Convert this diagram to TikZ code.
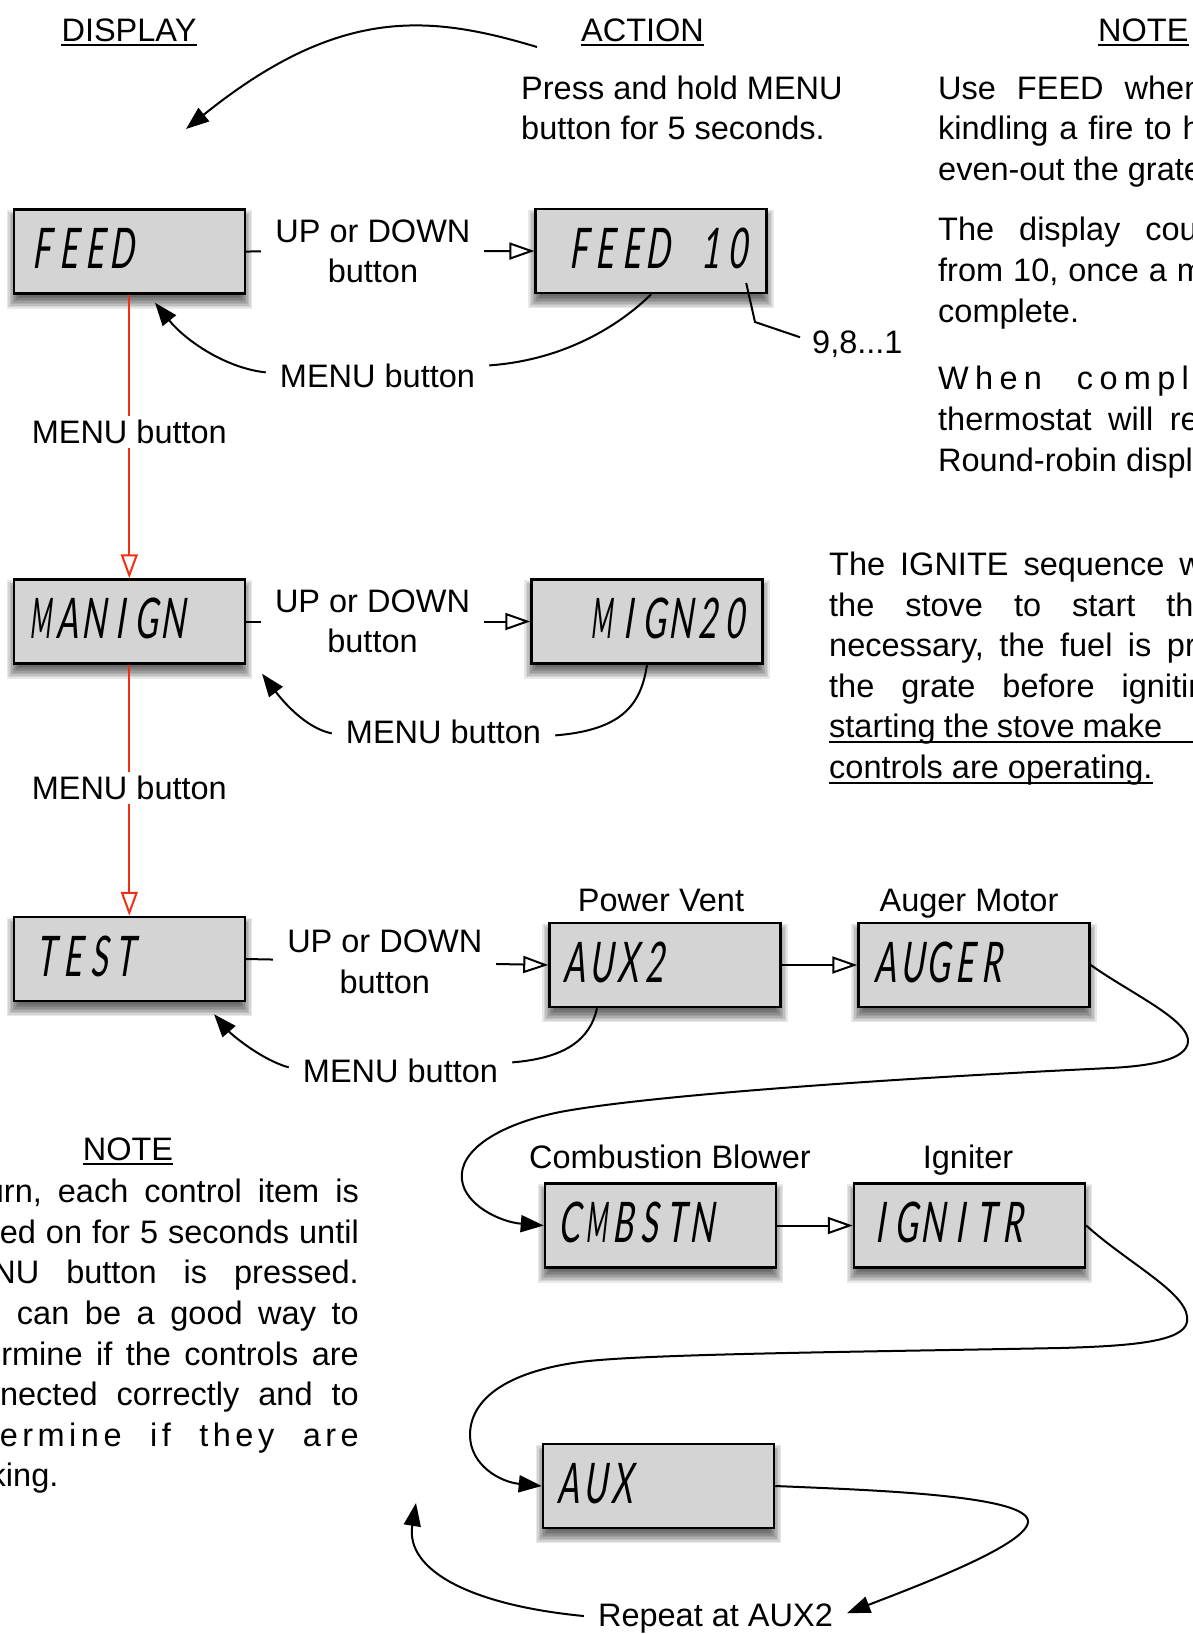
\documentclass[tikz,border=0pt]{standalone}
\usepackage{fontspec}
\setmainfont{Liberation Sans}
\newfontfamily\lcdfont{Lato Italic}[FakeStretch=0.62,FakeSlant=0.08]
\usetikzlibrary{arrows.meta,calc}
\pgfdeclarelayer{background}
\pgfsetlayers{background,main}
\definecolor{lcdred}{RGB}{245,45,20}
\definecolor{lcdgray}{RGB}{212,212,212}
\newcommand\bodyfont{\fontsize{32.5}{40.6}\selectfont}
\newlength\lcdp \setlength\lcdp{26.5pt}
\makeatletter
\def\lcd#1{\lcd@loop#1\relax}
\def\lcd@loop#1{\ifx#1\relax\else\lcd@cell{#1}\expandafter\lcd@loop\fi}
\def\lcd@cell#1{\ifx#1M\makebox[\lcdp][c]{\scalebox{0.72}[1]{M}}\else\makebox[\lcdp][c]{#1}\fi}
\makeatother
\newcommand\lk{\kern6.3pt\relax}
\newcommand\lkk{\kern4.5pt\relax}
\begin{document}
\begin{tikzpicture}[x=1pt,y=-1pt,
  txt/.style={inner sep=0pt, font=\bodyfont},
  mlab/.style={txt, inner xsep=14pt},
  lcdbox/.style={draw=black, line width=2.5pt, fill=lcdgray, minimum width=231pt, minimum height=84pt, inner sep=0pt},
  lcdtxt/.style={inner sep=0pt, anchor=base west, font=\lcdfont\fontsize{56}{60}\selectfont},
  conn/.style={line width=2pt},
  fillarrow/.style={conn, -{Triangle[length=23pt,width=17pt]}},
  openarrow/.style={conn, -{Triangle[length=25pt,width=17pt,fill=white]}},
  redarrow/.style={line width=2pt, draw=lcdred, -{Triangle[length=24pt,width=17pt,fill=white]}},
  elabel/.style={txt, fill=white, inner xsep=14pt, inner ysep=5pt, align=center}
]
\useasboundingbox (0,0) rectangle (1193,1634);
\clip (0,0) rectangle (1193,1634);

% ---------- display boxes ----------
\node[lcdbox] (feed)   at (129.3,251.5) {};
\node[lcdbox] (feedt)  at (651.2,251)   {};
\node[lcdbox] (manign) at (129.3,621.5) {};
\node[lcdbox] (mign)   at (647,621.5)   {};
\node[lcdbox] (test)   at (129.3,959)   {};
\node[lcdbox] (auxtwo) at (665,965)     {};
\node[lcdbox] (auger)  at (974,965)     {};
\node[lcdbox] (cmb)    at (660.5,1225.5){};
\node[lcdbox] (ign)    at (969.5,1225.5){};
\node[lcdbox] (aux)    at (658.5,1486)  {};

\node[lcdtxt] (feedL)   at ([shift={(17,17)}]feed.west)     {\lcd{FEED}};
\node[lcdtxt] (feedtL)  at ([shift={(31.5,17)}]feedt.west)  {\lcd{FEED~10}};
\node[lcdtxt] (manignL) at ([shift={(15.5,17)}]manign.west) {\lcd{MANIGN}};
\node[lcdtxt] (mignL)   at ([shift={(59,17)}]mign.west)     {\lcd{MIGN20}};
\node[lcdtxt] (testL)   at ([shift={(21,17)}]test.west)     {\lcd{TEST}};
\node[lcdtxt] (auxtwoL) at ([shift={(14,17)}]auxtwo.west)   {\lcd{AUX2}};
\node[lcdtxt] (augerL)  at ([shift={(16,17)}]auger.west)    {\lcd{AUGER}};
\node[lcdtxt] (cmbL)    at ([shift={(13.5,17)}]cmb.west)    {\lcd{CMBSTN}};
\node[lcdtxt] (ignL)    at ([shift={(15,17)}]ign.west)      {\lcd{IGNITR}};
\node[lcdtxt] (auxL)    at ([shift={(14.5,17)}]aux.west)    {\lcd{AUX}};

% ---------- shadows ----------
\begin{pgfonlayer}{background}
\fill[white] (0,0) rectangle (1193,1634);
\foreach \n in {feed,feedt,manign,mign,test,auxtwo,auger,cmb,ign,aux}{
  \foreach \e in {-6,-4.5,-3,-1.5,0,1.5,3,4.5,6}{
    \fill[black,opacity=0.09] ([shift={({-1*\e},{8-\e})}]\n.north west) rectangle ([shift={(\e,{8+\e})}]\n.south east);
  }
}
\end{pgfonlayer}

% ---------- headers ----------
\node[txt, anchor=base] (hdisp) at (129,41) {DISPLAY};
\node[txt, anchor=base] (hact) at (642.5,41) {ACTION};
\node[txt, anchor=base west] (hnote) at (1098,41) {NOTE};
\node[txt, anchor=base] (hnoteb) at (128,1160) {NOTE};
\foreach \h in {hdisp,hact,hnote,hnoteb}
  \draw[line width=2pt] ([yshift=-3.5pt]\h.base west) -- ([yshift=-3.5pt]\h.base east);

% ---------- action text ----------
\node[txt, anchor=base west] (pr1) at (521,99.2) {Press and hold MENU};
\node[txt, anchor=base west] (pr2) at (521,139.8) {button for 5 seconds.};

% ---------- right notes ----------
\node[txt, anchor=base west] (n1) at (938,99.2)  {\spaceskip=21pt\relax Use FEED when};
\node[txt, anchor=base west] (n2) at (938,139.8) {\spaceskip=11pt\relax kindling a fire to help};
\node[txt, anchor=base west] (n3) at (938,180.4) {even-out the grate.};
\node[txt, anchor=base west] (n4) at (938,240.9) {\spaceskip=25pt\relax The display counts};
\node[txt, anchor=base west] (n5) at (938,281.5) {\spaceskip=10pt\relax from 10, once a minute};
\node[txt, anchor=base west] (n6) at (938,322.1) {complete.};
\node[txt, anchor=base west] (n7) at (938,389.9) {W\lk h\lk e\lk n\hspace{35pt}c\lk o\lk m\lk p\lk l\lk e\lk t\lk e};
\node[txt, anchor=base west] (n8) at (938,430.5) {\spaceskip=16.5pt\relax thermostat will return};
\node[txt, anchor=base west] (n9) at (938,471.1) {Round-robin display};

% ---------- IGNITE note ----------
\node[txt, anchor=base west] (g1) at (829,575.5) {\spaceskip=15pt\relax The IGNITE sequence will};
\node[txt, anchor=base west] (g2) at (829,616.1) {\spaceskip=31pt\relax the stove to start the};
\node[txt, anchor=base west] (g3) at (829,656.7) {\spaceskip=15.5pt\relax necessary, the fuel is primed};
\node[txt, anchor=base west] (g4) at (829,697.3) {\spaceskip=27pt\relax the grate before igniting};
\node[txt, anchor=base west] (g5) at (829,737.9) {\spaceskip=8pt\relax starting the stove make};
\node[txt, anchor=base west] (g6) at (829,778.5) {controls are operating.};
\draw[line width=2pt] ([yshift=-4.5pt]g5.base west) -- ++(380,0);
\draw[line width=2pt] ([yshift=-4.5pt]g6.base west) -- ([yshift=-4.5pt]g6.base east);

% ---------- bottom-left note ----------
\node[txt, anchor=base east] (b1) at (359,1202.6) {\spaceskip=16pt\relax turn, each control item is};
\node[txt, anchor=base east] (b2) at (359,1243.2) {\spaceskip=10pt\relax turned on for 5 seconds until};
\node[txt, anchor=base east] (b3) at (359,1283.8) {\spaceskip=27pt\relax MENU button is pressed.};
\node[txt, anchor=base east] (b4) at (359,1324.4) {\spaceskip=15.6pt\relax This can be a good way to};
\node[txt, anchor=base east] (b5) at (359,1365)   {\spaceskip=13.5pt\relax determine if the controls are};
\node[txt, anchor=base east] (b6) at (359,1405.6) {\spaceskip=19pt\relax connected correctly and to};
\node[txt, anchor=base east] (b7) at (359,1446.2) {d\lkk e\lkk t\lkk e\lkk r\lkk m\lkk i\lkk n\lkk e\hspace{28.5pt}i\lkk f\hspace{28.5pt}t\lkk h\lkk e\lkk y\hspace{28.5pt}a\lkk r\lkk e};
\node[txt, anchor=base east] (b8) at (58.6,1486.8) {working.};

% ---------- top arrow ----------
\coordinate (topS) at (537,47);
\coordinate (topE) at (186,129);
\draw[fillarrow] (topS) .. controls (430,15) and (340,5) .. (topE);

% ---------- FEED row ----------
\draw[openarrow] (feed.east) -- node[elabel,pos=0.44]{UP or DOWN\\button} (feedt.west);
\node[mlab, anchor=base] (m1) at (377.5,387) {MENU button};
\draw[conn] (feedt.south) .. controls (620,325) and (565,360) .. ([yshift=10pt]m1.east);
\draw[fillarrow] ([yshift=3pt]m1.west) .. controls (225,368) and (185,340) .. ([shift={(-91,8)}]feed.south east);
\coordinate (tenpt) at ([shift={(95,32)}]feedt.center);
\node[mlab, anchor=base west, inner xsep=12pt] (nine) at (800,353.5) {9,8...1};
\draw[conn] (tenpt) -- (755,322) -- ([yshift=7pt]nine.west);

\draw[redarrow] (feed.south) -- node[elabel,pos=0.485,inner ysep=4pt]{MENU button} (manign.north);

% ---------- MANIGN row ----------
\draw[openarrow] (manign.east) -- node[elabel,pos=0.445]{UP or DOWN\\button} (mign.west);
\node[mlab, anchor=base] (m2) at (443.5,743) {MENU button};
\draw[conn] (mign.south) .. controls (641,705) and (622,730) .. ([yshift=-4pt]m2.east);
\draw[fillarrow] ([yshift=-2pt]m2.west) .. controls (305,728) and (282,700) .. ([shift={(16,9)}]manign.south east);

\draw[redarrow] (manign.south) -- node[elabel,pos=0.49,inner ysep=4pt]{MENU button} (test.north);

% ---------- TEST row ----------
\draw[openarrow] (test.east) -- node[elabel,pos=0.459]{UP or DOWN\\button} (auxtwo.west);
\node[mlab, anchor=base] (m3) at (400.5,1082) {MENU button};
\draw[conn] ([xshift=-68pt]auxtwo.south) .. controls (590,1040) and (565,1058) .. ([yshift=8pt]m3.east);
\draw[fillarrow] ([yshift=3pt]m3.west) .. controls (262,1060) and (232,1035) .. ([shift={(-32,12)}]test.south east);

\node[txt, anchor=base] (pv) at (661,911.5) {Power Vent};
\node[txt, anchor=base] (am) at (969,911.5) {Auger Motor};
\node[txt, anchor=base] (cb) at (670,1168) {Combustion Blower};
\node[txt, anchor=base] (ig) at (968,1168) {Igniter};

\draw[openarrow] (auxtwo.east) -- (auger.west);
\draw[fillarrow] (auger.east) .. controls (1130,993) and (1190,1020) .. (1188,1042)
  .. controls (1186,1060) and (1150,1066) .. (1110,1068)
  .. controls (900,1078) and (650,1095) .. (560,1112)
  .. controls (500,1124) and (458,1150) .. (462,1180)
  .. controls (465,1205) and (500,1222) .. (cmb.west);
\draw[openarrow] (cmb.east) -- (ign.west);
\draw[fillarrow] (ign.east) .. controls (1130,1265) and (1192,1295) .. (1187,1322)
  .. controls (1183,1342) and (1130,1346) .. (1060,1348)
  .. controls (850,1352) and (640,1354) .. (580,1362)
  .. controls (505,1372) and (470,1400) .. (470,1435)
  .. controls (470,1465) and (500,1482) .. (aux.west);

% ---------- repeat ----------
\node[mlab, anchor=base] (rep) at (715.5,1626) {Repeat at AUX2};
\draw[fillarrow] (aux.east) .. controls (870,1490) and (1030,1495) .. (1028,1522)
  .. controls (1026,1545) and (920,1585) .. ([yshift=5pt]rep.east);
\coordinate (repE) at (416,1503);
\draw[fillarrow] ([yshift=2pt]rep.west) .. controls (470,1605) and (405,1570) .. (repE);
\end{tikzpicture}
\end{document}
